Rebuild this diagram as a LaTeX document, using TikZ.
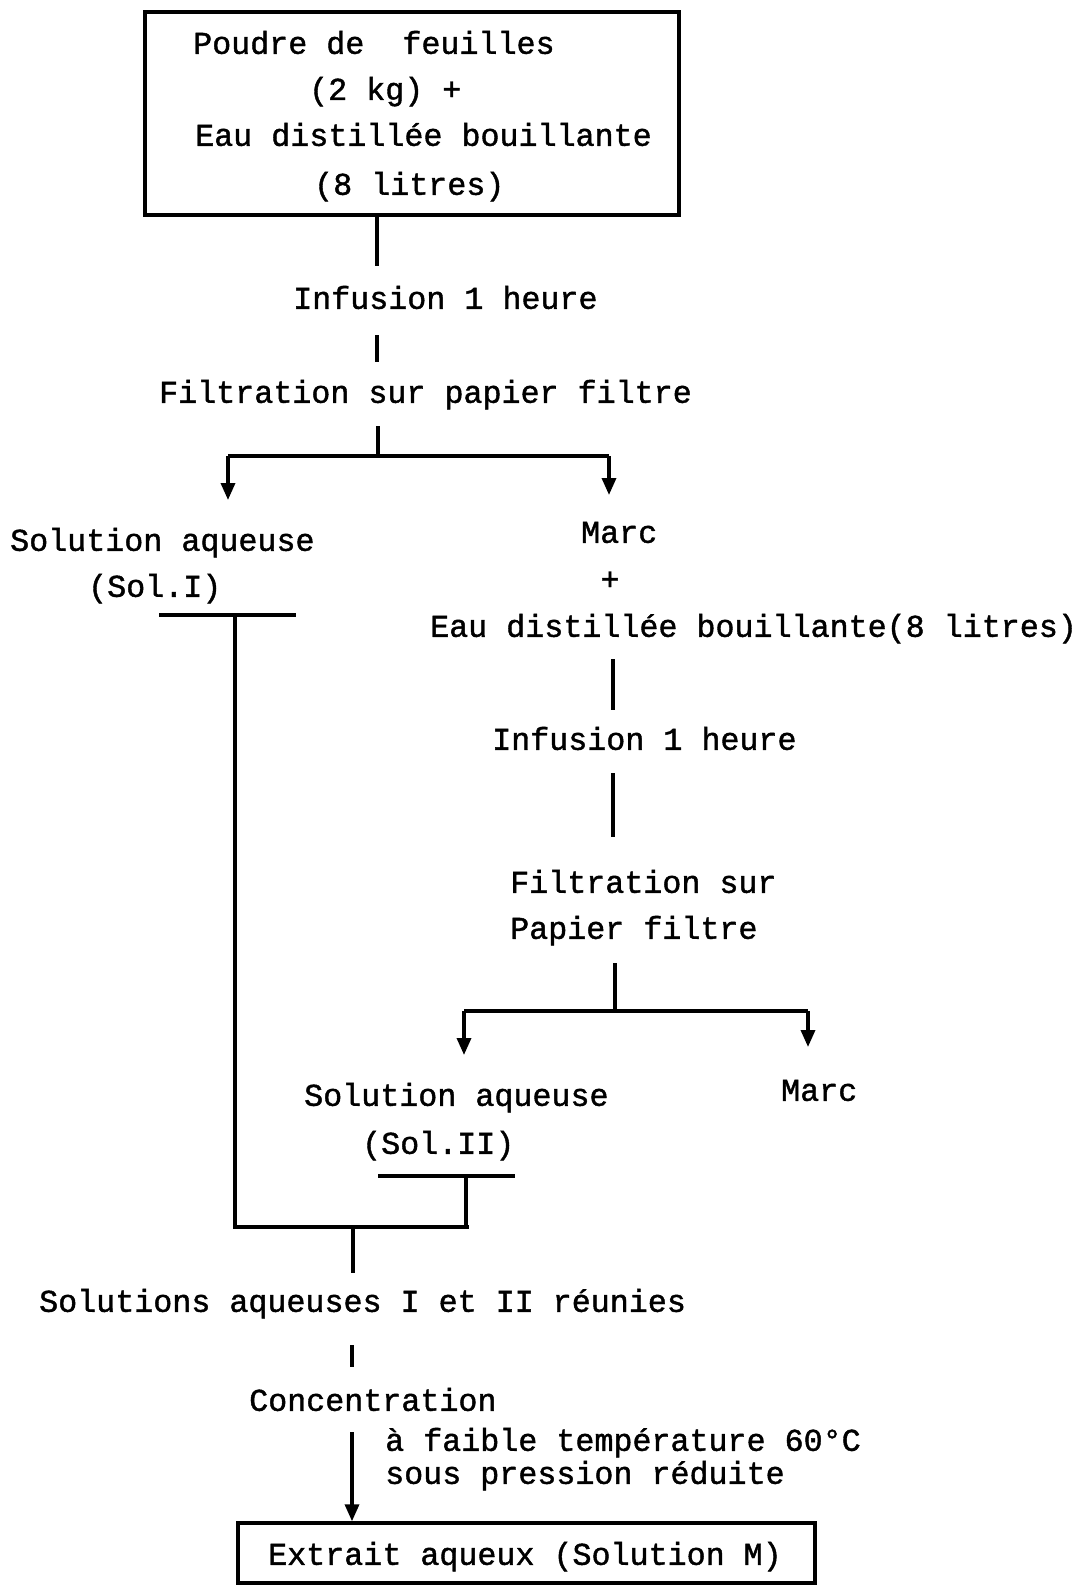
\documentclass[tikz,border=0pt]{standalone}
\usepackage{fontspec}
\newfontfamily\tw{Liberation Mono}[FakeBold=1.3]
\usetikzlibrary{arrows.meta}
\begin{document}
\begin{tikzpicture}[x=1pt,y=-1pt,
  txt/.style={anchor=west, inner sep=0pt, yshift=-8pt, font=\tw\fontsize{31.7}{36}\selectfont, text height=0.66em, text depth=0.1em},
  ln/.style={line width=3.4pt},
  arr/.style={ln, -{Triangle[length=17pt,width=14pt]}},
  frame/.style={draw, line width=3.4pt, inner sep=0pt}]
\useasboundingbox[fill=white] (0,0) rectangle (1085,1590);

% top box
\node[frame, minimum width=534pt, minimum height=203pt] (box1) at (412,113.5) {};
\node[txt] (t1) at (193,43) {Poudre de~~feuilles};
\node[txt] (t2) at (309,89) {(2 kg) +};
\node[txt] (t3) at (195,135) {Eau distillée bouillante};
\node[txt] (t4) at (314,184) {(8 litres)};

\coordinate (a1) at (377,266);
\draw[ln] (box1.south -| a1) -- (a1);
\node[txt] (inf1) at (293,298) {Infusion 1 heure};
\coordinate (a2) at (377,335);
\coordinate (a3) at (377,362);
\draw[ln] (a2) -- (a3);
\node[txt] (fil1) at (159,392) {Filtration sur papier filtre};
\coordinate (a4) at (378,426);
\coordinate (a5) at (378,456);
\coordinate (bl) at (228,456);
\coordinate (br) at (609,456);
\draw[ln] (a4) -- (a5);
\draw[ln] (bl) -- (br);

\node[txt] (sol1) at (10,540) {Solution aqueuse};
\node[txt] (sol1b) at (88,586) {(Sol.I)};
\node[txt] (marc1) at (581,532) {Marc};
\node[txt, anchor=center] (plus) at (610,579) {+};
\node[txt] (eau2) at (430,626) {Eau distillée bouillante(8 litres)};

\draw[arr] (bl) -- (bl |- 0,500);
\draw[arr] (br) -- (br |- 0,495);

% left collector
\coordinate (c1l) at (159,615);
\coordinate (c1r) at (296,615);
\coordinate (c1m) at (235,615);
\coordinate (c1b) at (235,1229);
\draw[ln] (c1l) -- (c1r);
\draw[ln] (c1m) -- (c1b);

% right branch
\coordinate (d1) at (613,659);
\coordinate (d2) at (613,710);
\draw[ln] (d1) -- (d2);
\node[txt] (inf2) at (492,739) {Infusion 1 heure};
\coordinate (d3) at (613,773);
\coordinate (d4) at (613,837);
\draw[ln] (d3) -- (d4);
\node[txt] (fil2a) at (510,882) {Filtration sur};
\node[txt] (fil2b) at (510,928) {Papier filtre};
\coordinate (d5) at (615,963);
\coordinate (d6) at (615,1011);
\coordinate (el) at (464,1011);
\coordinate (er) at (808,1011);
\draw[ln] (d5) -- (d6);
\draw[ln] (el) -- (er);
\draw[arr] (el) -- (el |- 0,1055);
\draw[arr] (er) -- (er |- 0,1047);

\node[txt] (sol2) at (304,1095) {Solution aqueuse};
\node[txt] (sol2b) at (362,1143) {(Sol.II)};
\node[txt] (marc2) at (781,1090) {Marc};

\coordinate (f1l) at (378,1176);
\coordinate (f1r) at (515,1176);
\coordinate (f1m) at (466,1176);
\coordinate (f1b) at (466,1226);
\draw[ln] (f1l) -- (f1r);
\draw[ln] (f1m) -- (f1b);

\coordinate (gl) at (235,1227);
\coordinate (gr) at (469,1227);
\coordinate (gm) at (353,1227);
\coordinate (gb) at (353,1273);
\draw[ln] (gl) -- (gr);
\draw[ln] (gm) -- (gb);

\node[txt] (sols) at (39,1301) {Solutions aqueuses I et II réunies};
\coordinate (h1) at (352,1345);
\coordinate (h2) at (352,1367);
\draw[ln] (h1) -- (h2);
\node[txt] (conc) at (249,1400) {Concentration};
\node[txt] (lab1) at (385,1440) {à faible température 60°C};
\node[txt] (lab2) at (385,1473) {sous pression réduite};

% bottom box
\node[frame, minimum width=577pt, minimum height=60pt] (box2) at (526.5,1553) {};
\node[txt] (ext) at (268,1554) {Extrait aqueux (Solution M)};
\coordinate (h3) at (352,1432);
\draw[arr] (h3) -- (box2.north -| h3);
\end{tikzpicture}
\end{document}
